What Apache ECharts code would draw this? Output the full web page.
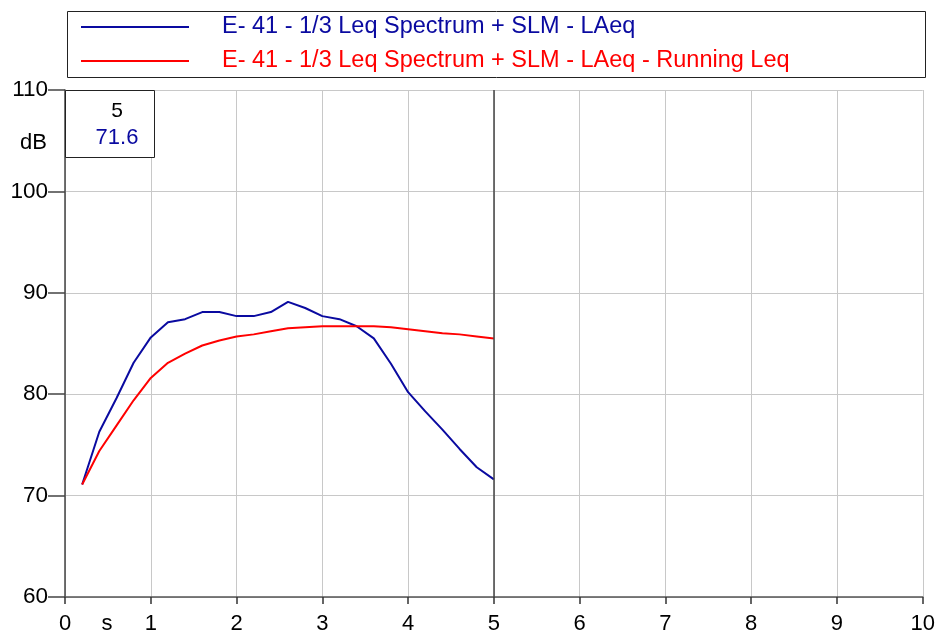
<!DOCTYPE html>
<html>
<head>
<meta charset="utf-8">
<script src="https://cdn.jsdelivr.net/npm/echarts@6/dist/echarts.min.js"></script>
<style>
    html, body { margin: 0; padding: 0; background: #fff; }
    #chart { width: 938px; height: 636px; }
</style>
</head>
<body>
<div id="chart"></div>
<script type="text/javascript">
    // 时间 (s)
    var times = [0.2, 0.4, 0.6, 0.8, 1.0, 1.2, 1.4, 1.6, 1.8, 2.0, 2.2, 2.4, 2.6,
                 2.8, 3.0, 3.2, 3.4, 3.6, 3.8, 4.0, 4.2, 4.4, 4.6, 4.8, 5.0];
    // LAeq (dB)
    var laeq = [71.1, 76.3, 79.6, 83.1, 85.6, 87.1, 87.4, 88.1, 88.1, 87.7, 87.7, 88.1, 89.1,
                88.5, 87.7, 87.4, 86.7, 85.5, 83.0, 80.2, 78.3, 76.5, 74.6, 72.8, 71.6];
    // Running Leq (dB)
    var running = [71.1, 74.4, 76.9, 79.4, 81.6, 83.1, 84.0, 84.8, 85.3, 85.7, 85.9, 86.2, 86.5,
                   86.6, 86.7, 86.7, 86.7, 86.7, 86.6, 86.4, 86.2, 86.0, 85.9, 85.7, 85.5];
    var legendNames = ['E- 41 - 1/3 Leq Spectrum + SLM - LAeq',
                       'E- 41 - 1/3 Leq Spectrum + SLM - LAeq - Running Leq'];
    var cursorX = 5;
    var cursorVal = '71.6';

    function pairs(xs, ys) {
        var out = [];
        for (var i = 0; i < xs.length; i++) {
            out.push([xs[i], ys[i]]);
        }
        return out;
    }

    var blue = '#0a0aa0';
    var red = '#ff0000';
    var font = 'Liberation Sans, Arial, sans-serif';

    var myChart = echarts.init(document.getElementById('chart'));
    var option = {
        animation: false,
        textStyle: { fontFamily: font },
        grid: { left: 65, top: 90, right: 15, bottom: 39 },
        legend: {
            orient: 'vertical',
            left: 81,
            top: 15,
            padding: 0,
            itemWidth: 108,
            itemHeight: 2,
            itemGap: 10,
            icon: 'rect',
            selectedMode: false,
            textStyle: { fontSize: 23.5, padding: [0, 0, 0, 28] },
            data: [
                { name: legendNames[0], textStyle: { color: blue } },
                { name: legendNames[1], textStyle: { color: red } }
            ]
        },
        xAxis: {
            type: 'value',
            min: 0, max: 10, interval: 1,
            axisLine: { lineStyle: { color: '#555', width: 1.5 } },
            axisTick: { length: 7, lineStyle: { color: '#333', width: 1.5 } },
            axisLabel: { fontSize: 22, color: '#000', margin: 16 },
            splitLine: { show: true, lineStyle: { color: '#c8c8c8', width: 1 } }
        },
        yAxis: {
            type: 'value',
            min: 60, max: 110, interval: 10,
            axisLine: { show: true, lineStyle: { color: '#444', width: 1.5 } },
            axisTick: { show: true, length: 17, lineStyle: { color: '#444', width: 1.5 } },
            axisLabel: { fontSize: 22.5, color: '#000', margin: 17 },
            splitLine: { show: true, lineStyle: { color: '#c8c8c8', width: 1 } }
        },
        series: [
            {
                name: legendNames[0],
                type: 'line',
                data: pairs(times, laeq),
                showSymbol: false,
                color: blue,
                lineStyle: { width: 2 },
                markLine: {
                    silent: true,
                    symbol: 'none',
                    label: { show: false },
                    lineStyle: { color: '#444', type: 'solid', width: 1.5 },
                    data: [{ xAxis: cursorX }]
                }
            },
            {
                name: legendNames[1],
                type: 'line',
                data: pairs(times, running),
                showSymbol: false,
                color: red,
                lineStyle: { width: 2 }
            }
        ],
        graphic: [
            {
                type: 'rect', left: 65, top: 9, z: 0,
                shape: { width: 858, height: 66 },
                style: { fill: 'none', stroke: '#222', lineWidth: 1 }
            },
            {
                type: 'rect', left: 65, top: 90, z: 10,
                shape: { width: 89, height: 67 },
                style: { fill: '#fff', stroke: '#222', lineWidth: 1 }
            },
            {
                type: 'text', x: 117, y: 111, z: 11,
                style: { text: String(cursorX), fill: '#000', font: '21px ' + font, align: 'center', verticalAlign: 'middle' }
            },
            {
                type: 'text', x: 117, y: 138, z: 11,
                style: { text: cursorVal, fill: blue, font: '22px ' + font, align: 'center', verticalAlign: 'middle' }
            },
            {
                type: 'text', x: 47, y: 143, z: 11,
                style: { text: 'dB', fill: '#000', font: '22px ' + font, align: 'right', verticalAlign: 'middle' }
            },
            {
                type: 'text', x: 107, y: 624, z: 11,
                style: { text: 's', fill: '#000', font: '22px ' + font, align: 'center', verticalAlign: 'middle' }
            }
        ]
    };
    myChart.setOption(option, true);
</script>
</body>
</html>
